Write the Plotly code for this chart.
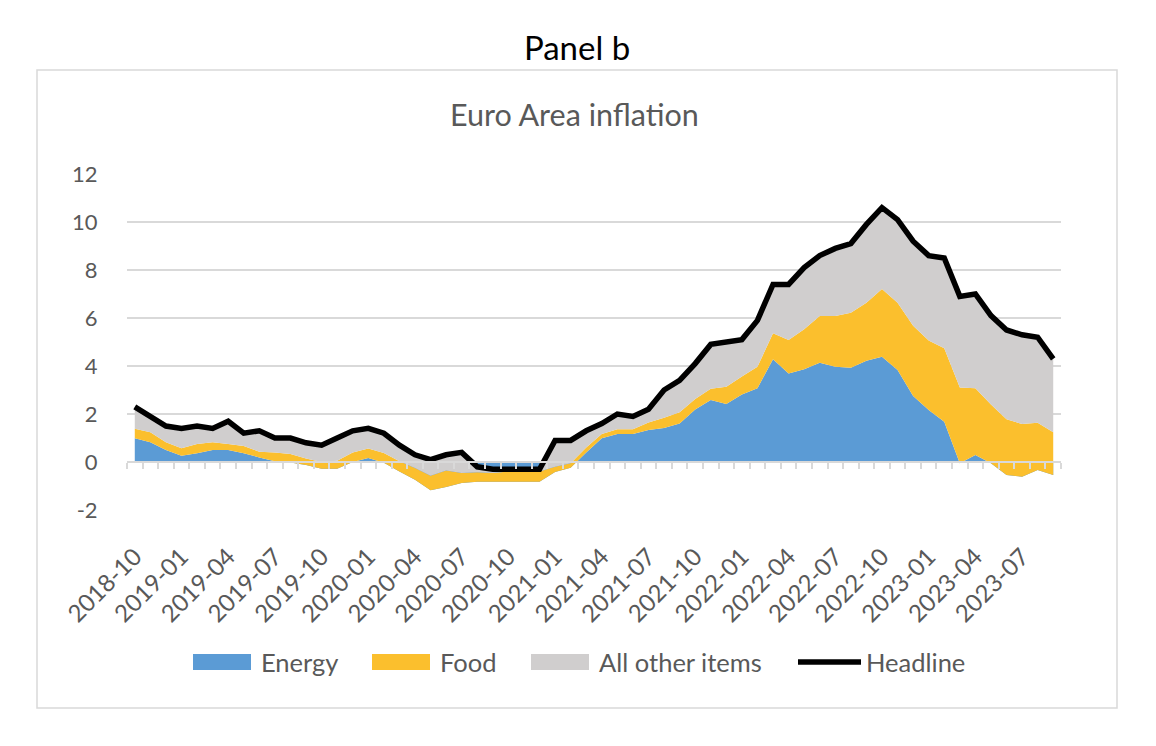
import plotly.graph_objects as go
import pandas as pd

# ---- data (percentage-point contributions) ----
months = [str(p) for p in pd.period_range("2018-10", periods=60, freq="M")]

energy = [0.99, 0.82, 0.50, 0.26, 0.36, 0.50, 0.50, 0.36, 0.19, 0.03,
          -0.02, -0.12, -0.28, -0.28, 0.00, 0.17, -0.03, -0.40, -0.74, -1.18,
          -1.04, -0.88, -0.82, -0.82, -0.82, -0.82, -0.82, -0.42, -0.24, 0.40,
          0.99, 1.17, 1.17, 1.33, 1.42, 1.60, 2.19, 2.58, 2.42, 2.81,
          3.07, 4.28, 3.69, 3.86, 4.14, 3.97, 3.93, 4.22, 4.39, 3.83,
          2.75, 2.17, 1.68, -0.05, 0.29, -0.05, -0.54, -0.61, -0.33, -0.54]

food = [0.40, 0.42, 0.32, 0.31, 0.39, 0.32, 0.25, 0.31, 0.24, 0.37,
        0.35, 0.27, 0.28, 0.33, 0.40, 0.39, 0.40, 0.43, 0.49, 0.61,
        0.69, 0.42, 0.39, 0.36, 0.42, 0.42, 0.42, 0.22, 0.19, 0.20,
        0.18, 0.19, 0.19, 0.32, 0.42, 0.47, 0.44, 0.47, 0.72, 0.75,
        0.90, 1.08, 1.39, 1.67, 1.94, 2.11, 2.29, 2.42, 2.82, 2.81,
        2.93, 2.89, 3.06, 3.15, 2.78, 2.45, 2.32, 2.19, 1.97, 1.78]

other = [0.91, 0.66, 0.68, 0.83, 0.75, 0.58, 0.95, 0.53, 0.87, 0.60,
         0.67, 0.65, 0.70, 0.95, 0.90, 0.84, 0.83, 0.67, 0.55, 0.67,
         0.65, 0.86, 0.23, 0.16, 0.10, 0.10, 0.10, 1.10, 0.95, 0.70,
         0.43, 0.64, 0.54, 0.55, 1.16, 1.33, 1.47, 1.85, 1.86, 1.54,
         1.93, 2.04, 2.32, 2.57, 2.52, 2.82, 2.88, 3.26, 3.39, 3.46,
         3.52, 3.54, 3.76, 3.80, 3.93, 3.70, 3.72, 3.72, 3.56, 3.06]

headline = [2.3, 1.9, 1.5, 1.4, 1.5, 1.4, 1.7, 1.2, 1.3, 1.0,
            1.0, 0.8, 0.7, 1.0, 1.3, 1.4, 1.2, 0.7, 0.3, 0.1,
            0.3, 0.4, -0.2, -0.3, -0.3, -0.3, -0.3, 0.9, 0.9, 1.3,
            1.6, 2.0, 1.9, 2.2, 3.0, 3.4, 4.1, 4.9, 5.0, 5.1,
            5.9, 7.4, 7.4, 8.1, 8.6, 8.9, 9.1, 9.9, 10.6, 10.1,
            9.2, 8.6, 8.5, 6.9, 7.0, 6.1, 5.5, 5.3, 5.2, 4.3]

tick_labels = ["2018-10", "2019-01", "2019-04", "2019-07", "2019-10", "2020-01",
               "2020-04", "2020-07", "2020-10", "2021-01", "2021-04", "2021-07",
               "2021-10", "2022-01", "2022-04", "2022-07", "2022-10", "2023-01",
               "2023-04", "2023-07"]
y_ticks = [-2, 0, 2, 4, 6, 8, 10, 12]
series_names = ["Energy", "Food", "All other items", "Headline"]

# ---- styles ----
FONT = "Lato, 'Open Sans', Arial, sans-serif"
GREY_TXT = "#595959"
GRID = "#D9D9D9"
C_ENERGY = "#5B9BD5"
C_FOOD = "#FBBF2D"
C_OTHER = "#D0CECE"
C_HEAD = "black"

W, H = 1156, 746
PL, PR, PT, PB = 127, 1061, 174, 510       # plot-area pixel box
PW, PH = PR - PL, PB - PT


def px_x(x):
    return (x - PL) / PW


def px_y(y):
    return (PB - y) / PH


idx = list(range(len(months)))
tick_pos = [months.index(t) for t in tick_labels]

fig = go.Figure()
for name, vals, col in [(series_names[0], energy, C_ENERGY),
                        (series_names[1], food, C_FOOD),
                        (series_names[2], other, C_OTHER)]:
    fig.add_trace(go.Scatter(
        x=idx, y=vals, name=name, stackgroup="one", mode="none",
        fillcolor=col, line=dict(width=0), hoverinfo="skip",
        showlegend=False))

# invisible helper trace so the zero-crossing category axis is drawn
fig.add_trace(go.Scatter(x=[0], y=[0], xaxis="x2", mode="markers",
                         marker=dict(opacity=0), showlegend=False,
                         hoverinfo="skip"))

fig.add_trace(go.Scatter(x=idx, y=headline, name=series_names[3], mode="lines",
                         xaxis="x2", showlegend=False,
                         line=dict(color=C_HEAD, width=5.5), hoverinfo="skip"))

fig.update_layout(
    width=W, height=H,
    margin=dict(l=PL, r=W - PR, t=PT, b=H - PB, autoexpand=False),
    paper_bgcolor="white", plot_bgcolor="white",
    font=dict(family=FONT, color=GREY_TXT, size=20),
    showlegend=False,
    title=dict(text="Panel b", xref="paper", x=px_x(577), xanchor="center",
               yref="container", y=1 - 48 / H, yanchor="middle",
               font=dict(family=FONT, size=33, color="black")),
    xaxis=dict(range=[-0.5, len(months) - 0.5], tickmode="array",
               tickvals=tick_pos, ticktext=tick_labels, tickangle=-45,
               ticks="outside", ticklen=22, tickcolor="rgba(0,0,0,0)",
               showgrid=False, zeroline=False, showline=False,
               automargin=False,
               tickfont=dict(size=24, color=GREY_TXT)),
    xaxis2=dict(overlaying="x", anchor="free", position=2 / 14,
                range=[-0.5, len(months) - 0.5], tickmode="array",
                tickvals=[i - 0.5 for i in range(len(months) + 1)],
                ticks="outside", ticklen=6, tickwidth=2, tickcolor=GRID,
                showticklabels=False, showline=True, linecolor=GRID,
                linewidth=2, showgrid=False, zeroline=False,
                automargin=False),
    yaxis=dict(range=[-2, 12], tickmode="array", tickvals=y_ticks,
               ticktext=[str(v) for v in y_ticks],
               showgrid=True, gridcolor=GRID, gridwidth=1.5,
               zeroline=False, showline=False, automargin=False,
               ticks="outside", ticklen=24, tickcolor="rgba(0,0,0,0)",
               tickfont=dict(size=22, color=GREY_TXT)),
)

fig.add_annotation(text="Euro Area inflation", xref="paper", yref="paper",
                   x=px_x(574), y=px_y(114),
                   xanchor="center", yanchor="middle", showarrow=False,
                   font=dict(family=FONT, size=30.5, color=GREY_TXT))

# outer chart frame
fig.add_shape(type="rect", xref="paper", yref="paper",
              x0=px_x(37), x1=px_x(1117), y0=px_y(708), y1=px_y(70),
              line=dict(color=GRID, width=1.5), fillcolor="rgba(0,0,0,0)",
              layer="below")

# legend (Excel-style: wide swatches)
LEG_Y = 662
leg_items = [(series_names[0], C_ENERGY, 193, 251, 259, "box"),
             (series_names[1], C_FOOD, 372, 430, 438, "box"),
             (series_names[2], C_OTHER, 531, 589, 597, "box"),
             (series_names[3], C_HEAD, 798, 861, 864, "line")]
for name, col, s0, s1, tx, kind in leg_items:
    if kind == "box":
        fig.add_shape(type="rect", xref="paper", yref="paper",
                      x0=px_x(s0), x1=px_x(s1),
                      y0=px_y(LEG_Y + 8), y1=px_y(LEG_Y - 8),
                      fillcolor=col, line=dict(width=0))
    else:
        fig.add_shape(type="line", xref="paper", yref="paper",
                      x0=px_x(s0), x1=px_x(s1),
                      y0=px_y(LEG_Y), y1=px_y(LEG_Y),
                      line=dict(color=col, width=5.5))
    fig.add_annotation(text=name, xref="paper", yref="paper",
                       x=px_x(tx), y=px_y(LEG_Y), xanchor="left",
                       yanchor="middle", showarrow=False,
                       font=dict(family=FONT, size=25.5, color=GREY_TXT))

fig.write_html("out.html")
